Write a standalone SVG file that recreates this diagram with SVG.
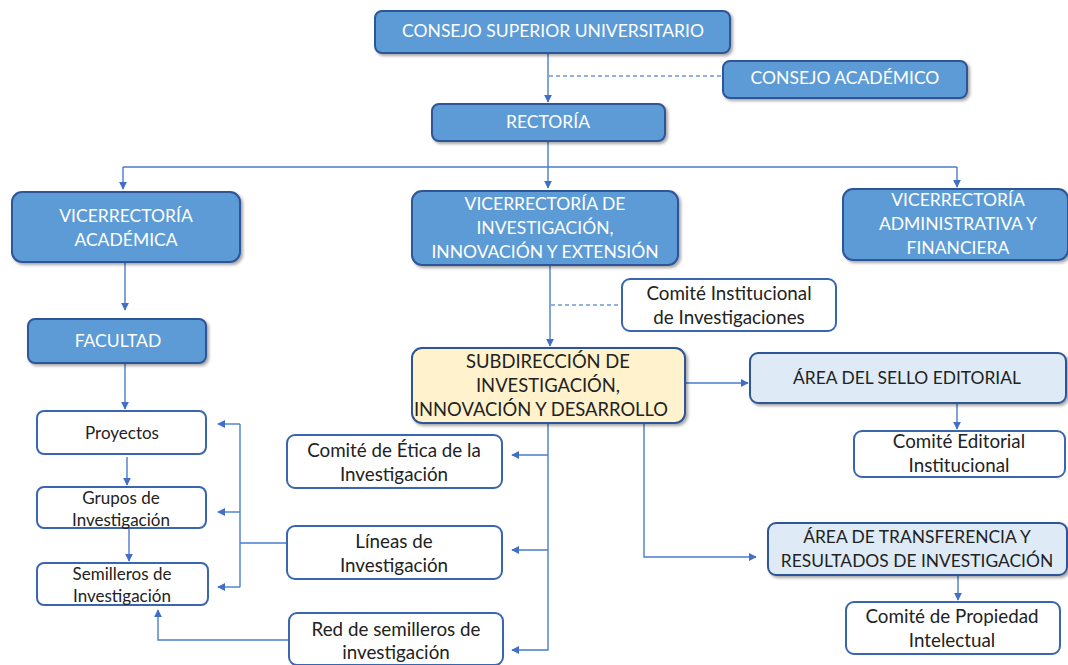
<svg xmlns="http://www.w3.org/2000/svg" width="1068" height="665" viewBox="0 0 1068 665">
<style>
.blue rect{fill:#5B9BD5;stroke:#2F5597;stroke-width:2;filter:url(#sh)}
.blue text{fill:#fff;font-family:Lato,"Open Sans",sans-serif;font-size:17.5px;text-anchor:middle}
.white rect{fill:#fff;stroke:#3A66B0;stroke-width:2}
.white text,.light text,.yellow text{fill:#222;font-family:Lato,"Open Sans",sans-serif;font-size:18.8px;text-anchor:middle}
.light text{font-size:17.4px}
.yellow text{font-size:18.4px}
.light rect{fill:#DEEBF7;stroke:#2F5597;stroke-width:2;filter:url(#sh)}
.yellow rect{fill:#FFF2CC;stroke:#2F5597;stroke-width:2;filter:url(#sh)}
.white.small text{font-size:17px}
#connectors path{fill:none;stroke:#4A7BD0;stroke-width:1.4}
#connectors .dash{stroke-dasharray:4 3;stroke:#6F96D8}
</style>
<defs>
<filter id="sh" x="-10%" y="-20%" width="125%" height="150%">
<feDropShadow dx="2" dy="2" stdDeviation="1.6" flood-color="#000" flood-opacity="0.35"/>
</filter>
<marker id="ar" viewBox="0 0 10 10" refX="9" refY="5" markerWidth="8" markerHeight="8" markerUnits="userSpaceOnUse" orient="auto">
<path d="M0,0 L10,5 L0,10 z" fill="#3F6FC6"/>
</marker>
</defs>
<rect width="1068" height="665" fill="#fff"/>

<g id="connectors">
<path d="M548,53 V102" marker-end="url(#ar)"/>
<path class="dash" d="M549,76 H722"/>
<path d="M548,141 V188" marker-end="url(#ar)"/>
<path d="M123,167 H957"/>
<path d="M123,167 V189" marker-end="url(#ar)"/>
<path d="M957,167 V187" marker-end="url(#ar)"/>
<path d="M125,262 V310" marker-end="url(#ar)"/>
<path d="M125,363 V409" marker-end="url(#ar)"/>
<path d="M127,457 V485" marker-end="url(#ar)"/>
<path d="M129,528 V561" marker-end="url(#ar)"/>
<path d="M287,543 H240"/>
<path d="M240,424 V587"/>
<path d="M240,424 H218" marker-end="url(#ar)"/>
<path d="M240,512 H218" marker-end="url(#ar)"/>
<path d="M240,587 H218" marker-end="url(#ar)"/>
<path d="M288,640 H158 V610" marker-end="url(#ar)"/>
<path d="M550,265 V346" marker-end="url(#ar)"/>
<path class="dash" d="M551,305 H620"/>
<path d="M548,423 V650 H512" marker-end="url(#ar)"/>
<path d="M548,455 H512" marker-end="url(#ar)"/>
<path d="M548,550 H512" marker-end="url(#ar)"/>
<path d="M685,383 H748" marker-end="url(#ar)"/>
<path d="M957,403 V429" marker-end="url(#ar)"/>
<path d="M644,423 V557 H756" marker-end="url(#ar)"/>
<path d="M958,575 V600" marker-end="url(#ar)"/>
</g>

<g id="consejo-superior" class="blue"><rect x="375" y="11" width="355" height="42" rx="7"/><text x="553" y="37">CONSEJO SUPERIOR UNIVERSITARIO</text></g>
<g id="consejo-academico" class="blue"><rect x="723" y="61" width="244" height="37" rx="7"/><text x="845" y="84">CONSEJO ACADÉMICO</text></g>
<g id="rectoria" class="blue"><rect x="432" y="104" width="233" height="37" rx="7"/><text x="548" y="128">RECTORÍA</text></g>
<g id="vic-academica" class="blue"><rect x="12" y="192" width="228" height="70" rx="10"/><text x="126" y="222">VICERRECTORÍA</text><text x="126" y="246">ACADÉMICA</text></g>
<g id="vic-investigacion" class="blue"><rect x="412" y="191" width="266" height="74" rx="10"/><text x="545" y="210">VICERRECTORÍA DE</text><text x="545" y="234">INVESTIGACIÓN,</text><text x="545" y="258">INNOVACIÓN  Y EXTENSIÓN</text></g>
<g id="vic-administrativa" class="blue"><rect x="843" y="189" width="225" height="71" rx="10"/><text x="958" y="206">VICERRECTORÍA</text><text x="958" y="230">ADMINISTRATIVA Y</text><text x="958" y="254">FINANCIERA</text></g>
<g id="facultad" class="blue"><rect x="28" y="319" width="178" height="44" rx="7"/><text x="118" y="347">FACULTAD</text></g>

<g id="proyectos" class="white small"><rect x="37" y="411" width="169" height="43" rx="7"/><text x="122" y="439">Proyectos</text></g>
<g id="grupos" class="white small"><rect x="37" y="487" width="169" height="41" rx="7"/><text x="121" y="504">Grupos de</text><text x="121" y="526">Investigación</text></g>
<g id="semilleros" class="white small"><rect x="37" y="563" width="171" height="42" rx="7"/><text x="122" y="580">Semilleros de</text><text x="122" y="602">Investigación</text></g>

<g id="comite-etica" class="white"><rect x="287" y="435" width="215" height="53" rx="8"/><text x="394" y="457">Comité de Ética de la</text><text x="394" y="481">Investigación</text></g>
<g id="lineas" class="white"><rect x="287" y="526" width="215" height="53" rx="8"/><text x="394" y="548">Líneas de</text><text x="394" y="572">Investigación</text></g>
<g id="red-semilleros" class="white"><rect x="289" y="613" width="214" height="52" rx="8"/><text x="396" y="636">Red de semilleros de</text><text x="396" y="659">investigación</text></g>

<g id="comite-institucional" class="white"><rect x="622" y="279" width="214" height="52" rx="8"/><text x="729" y="300">Comité Institucional</text><text x="729" y="324">de Investigaciones</text></g>
<g id="subdireccion" class="yellow"><rect x="412" y="348" width="273" height="75" rx="10"/><text x="548" y="368">SUBDIRECCIÓN DE</text><text x="548" y="392">INVESTIGACIÓN,</text><text x="541" y="416">INNOVACIÓN Y DESARROLLO</text></g>
<g id="sello-editorial" class="light"><rect x="750" y="353" width="316" height="50" rx="8"/><text x="907" y="384">ÁREA DEL SELLO EDITORIAL</text></g>
<g id="comite-editorial" class="white"><rect x="854" y="431" width="211" height="46" rx="8"/><text x="959" y="448">Comité Editorial</text><text x="959" y="472">Institucional</text></g>
<g id="transferencia" class="light"><rect x="768" y="523" width="299" height="52" rx="8"/><text x="917" y="543">ÁREA DE TRANSFERENCIA Y</text><text x="917" y="567">RESULTADOS DE INVESTIGACIÓN</text></g>
<g id="comite-propiedad" class="white"><rect x="846" y="602" width="214" height="52" rx="8"/><text x="952" y="623">Comité de Propiedad</text><text x="952" y="647">Intelectual</text></g>
</svg>
